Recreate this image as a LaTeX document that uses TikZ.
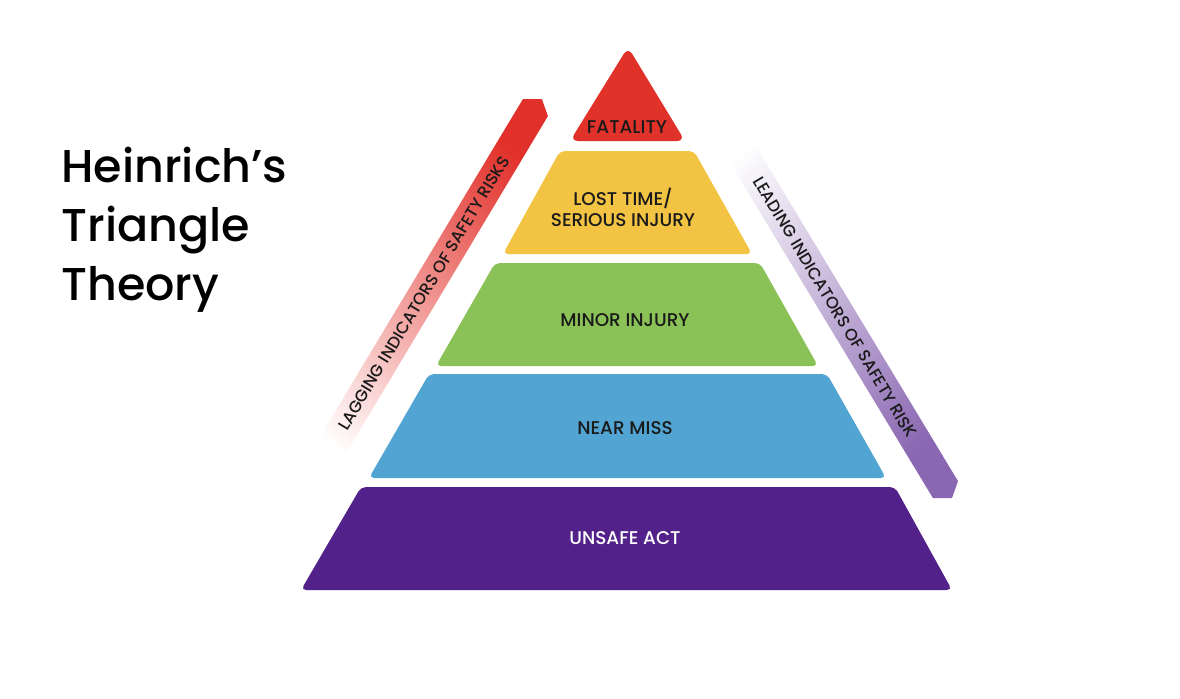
\documentclass[tikz,border=0pt]{standalone}
\usepackage{fontspec}
\setmainfont{Poppins}
\newfontfamily\titlefont{Poppins Medium}
\usetikzlibrary{positioning, fadings}

\definecolor{fatalred}{HTML}{E1322A}
\definecolor{losttime}{HTML}{F3C343}
\definecolor{minorgreen}{HTML}{8BC257}
\definecolor{nearblue}{HTML}{52A5D2}
\definecolor{unsafepurple}{HTML}{52228A}
\definecolor{lagred}{HTML}{E2302A}
\definecolor{leadpurple}{HTML}{8A67B2}
\definecolor{inktext}{HTML}{1A1A1A}

\tikzfading[name=bandfade, top color=transparent!0, bottom color=transparent!100]

\begin{document}
\begin{tikzpicture}[x=0.5pt, y=-0.5pt,
    tier/.style={rounded corners=2.5pt},
    tierlabel/.style={font=\titlefont\fontsize{9.2}{10.5}\selectfont, text=inktext, align=center, inner sep=0pt},
    bandlabel/.style={font=\titlefont\fontsize{8.3}{9}\selectfont, text=inktext, inner sep=0pt},
    titleline/.style={font=\titlefont\fontsize{23}{28}\selectfont, anchor=base west, inner sep=0pt},
]
\useasboundingbox (0,0) rectangle (1180,698);

% side bands
\fill[lagred, path fading=bandfade, fading angle=-30]
    (288,490) -- (523,99) -- (542,99) -- (548,116) -- (324,490) -- cycle;
\fill[leadpurple, path fading=bandfade, fading angle=-150]
    (697,108) -- (733,108) -- (958,481) -- (952,498) -- (933,498) -- cycle;

% pyramid
\fill[fatalred, rounded corners=4pt] (628,47) -- (685,141) -- (570,141) -- cycle;
\fill[losttime, tier] (560,151) -- (694,151) -- (752,254) -- (503,254) -- cycle;
\fill[minorgreen, tier] (495,263) -- (760,263) -- (818,366) -- (436,366) -- cycle;
\fill[nearblue, tier] (429,374) -- (827,374) -- (886,478) -- (369,478) -- cycle;
\fill[unsafepurple, tier] (361,487) -- (895,487) -- (952,590) -- (301,590) -- cycle;

\node[tierlabel] (fatality) at (627,127) {FATALITY};
\node[tierlabel] (losttime) at (623,207) {LOST TIME/\\SERIOUS INJURY};
\node[tierlabel] (minorinjury) at (625,320) {MINOR INJURY};
\node[tierlabel] (nearmiss) at (625,428) {NEAR MISS};
\node[tierlabel, text=white] (unsafeact) at (625,538) {UNSAFE ACT};

\node[bandlabel, rotate=59] (lagging) at (424,293) {LAGGING INDICATORS OF SAFETY RISKS};
\node[bandlabel, rotate=-59] (leading) at (835,307) {LEADING INDICATORS OF SAFETY RISK};

% title
\node[titleline] (heinrich) at (61,182) {Heinrich’s};
\node[titleline] (triangle) at (61,241) {Triangle};
\node[titleline] (theory) at (61,300) {Theory};
\end{tikzpicture}
\end{document}
